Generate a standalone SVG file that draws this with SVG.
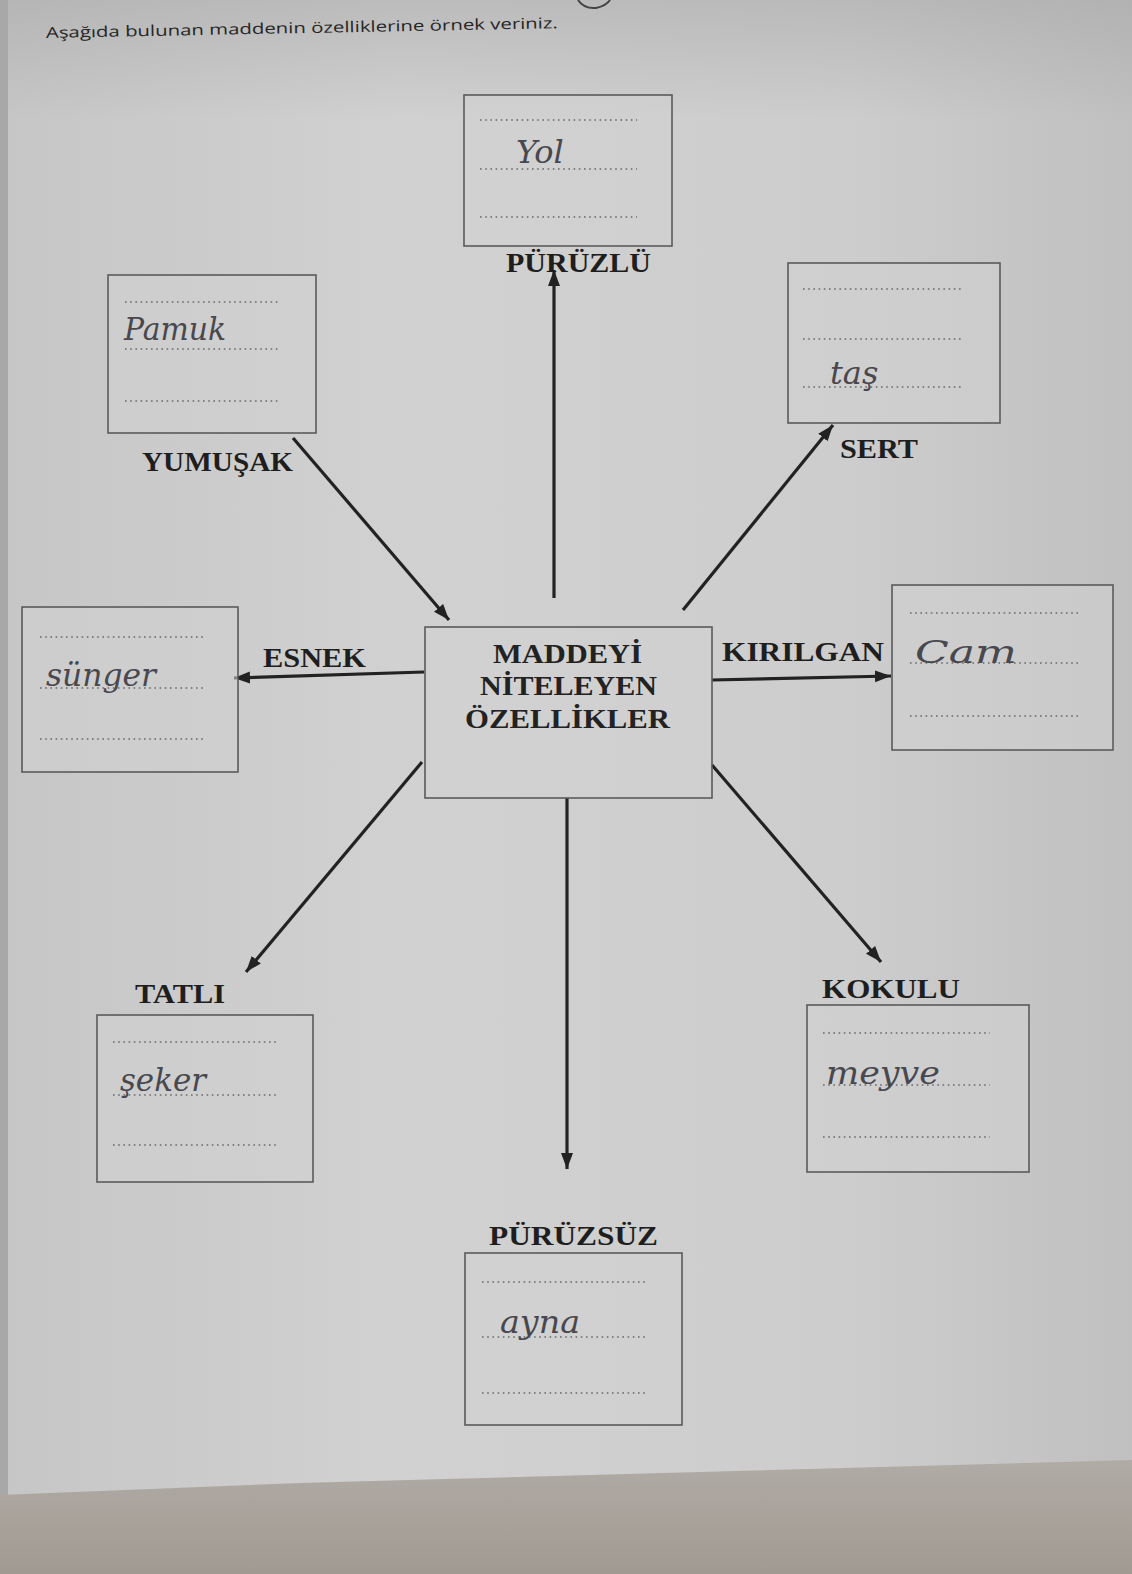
<svg xmlns="http://www.w3.org/2000/svg" width="1132" height="1574" viewBox="0 0 1132 1574">
  <defs>
    <linearGradient id="paper" x1="0" y1="0" x2="1" y2="0">
      <stop offset="0" stop-color="#c6c6c6"/>
      <stop offset="0.35" stop-color="#d1d1d1"/>
      <stop offset="0.75" stop-color="#cdcdcd"/>
      <stop offset="1" stop-color="#c0c0c0"/>
    </linearGradient>
    <linearGradient id="shadeTop" x1="0" y1="0" x2="0" y2="1">
      <stop offset="0" stop-color="#9c9c9c" stop-opacity="0.4"/>
      <stop offset="1" stop-color="#9c9c9c" stop-opacity="0"/>
    </linearGradient>
    <linearGradient id="table" x1="0" y1="0" x2="0" y2="1">
      <stop offset="0" stop-color="#b0aba5"/>
      <stop offset="1" stop-color="#a19a92"/>
    </linearGradient>
    <marker id="head" markerUnits="userSpaceOnUse" markerWidth="18" markerHeight="14" refX="16" refY="6" orient="auto">
      <path d="M0,0 L16,6 L0,12 z" fill="#222"/>
    </marker>
    <style>
      .box { fill: #d2d2d2; fill-opacity: 0.55; stroke: #5a5a5a; stroke-width: 1.6; }
      .dots { stroke: #6a6a6a; stroke-width: 1.6; stroke-dasharray: 1.6 3.6; }
      .label { font-family: "Liberation Serif", "Times New Roman", serif; font-weight: bold; font-size: 27px; fill: #1e1e1e; }
      .title { font-family: "Liberation Serif", "Times New Roman", serif; font-weight: bold; font-size: 28px; fill: #222; }
      .hand { font-family: "DejaVu Serif", "Liberation Serif", serif; font-style: italic; font-size: 32px; fill: #48484e; }
      .arrow { stroke: #222; stroke-width: 3.2; fill: none; marker-end: url(#head); }
      .lead { font-family: "Open Sans", "Liberation Sans", sans-serif; font-size: 15px; fill: #262626; }
    </style>
  </defs>

  <!-- paper and table -->
  <rect x="0" y="0" width="1132" height="1574" fill="url(#paper)"/>
  <rect x="0" y="0" width="1132" height="120" fill="url(#shadeTop)"/>
  <rect x="0" y="0" width="8" height="1500" fill="#a8a8a8"/>
  <path d="M0,1495 L300,1483 L1132,1460 L1132,1574 L0,1574 z" fill="url(#table)"/>

  <!-- tail of a heading stroke at the top edge -->
  <path d="M578,0 Q584,9 596,8 Q606,6 610,0" fill="none" stroke="#444" stroke-width="2"/>

  <text class="lead" x="46" y="38" textLength="512" lengthAdjust="spacingAndGlyphs" transform="rotate(-1.1 46 38)">Aşağıda bulunan maddenin özelliklerine örnek veriniz.</text>

  <!-- connectors -->
  <g id="connectors">
    <line class="arrow" x1="554" y1="598" x2="554" y2="270"/>
    <line class="arrow" x1="293" y1="438" x2="449" y2="620"/>
    <line class="arrow" x1="683" y1="610" x2="833" y2="425"/>
    <line class="arrow" x1="424" y1="672" x2="234" y2="678"/>
    <line class="arrow" x1="712" y1="680" x2="891" y2="676"/>
    <line class="arrow" x1="422" y1="762" x2="246" y2="972"/>
    <line class="arrow" x1="567" y1="798" x2="567" y2="1169"/>
    <line class="arrow" x1="712" y1="765" x2="881" y2="962"/>
  </g>

  <!-- central node -->
  <g id="center">
    <rect class="box" x="425" y="627" width="287" height="171"/>
    <text class="title" x="493" y="663" textLength="149" lengthAdjust="spacingAndGlyphs">MADDEYİ</text>
    <text class="title" x="480" y="695" textLength="177" lengthAdjust="spacingAndGlyphs">NİTELEYEN</text>
    <text class="title" x="465" y="728" textLength="205" lengthAdjust="spacingAndGlyphs">ÖZELLİKLER</text>
  </g>

  <g id="puruzlu">
    <rect class="box" x="464" y="95" width="208" height="151"/>
    <line class="dots" x1="480" y1="120" x2="637" y2="120"/>
    <line class="dots" x1="480" y1="169" x2="637" y2="169"/>
    <line class="dots" x1="480" y1="217" x2="637" y2="217"/>
    <text class="hand" x="516" y="163" font-size="38">Yol</text>
    <text class="label" x="506" y="272" textLength="145" lengthAdjust="spacingAndGlyphs">PÜRÜZLÜ</text>
  </g>

  <g id="yumusak">
    <rect class="box" x="108" y="275" width="208" height="158"/>
    <line class="dots" x1="125" y1="302" x2="278" y2="302"/>
    <line class="dots" x1="125" y1="349" x2="278" y2="349"/>
    <line class="dots" x1="125" y1="401" x2="278" y2="401"/>
    <text class="hand" x="124" y="340" textLength="102" lengthAdjust="spacingAndGlyphs">Pamuk</text>
    <text class="label" x="142" y="471" textLength="151" lengthAdjust="spacingAndGlyphs">YUMUŞAK</text>
  </g>

  <g id="sert">
    <rect class="box" x="788" y="263" width="212" height="160"/>
    <line class="dots" x1="803" y1="289" x2="962" y2="289"/>
    <line class="dots" x1="803" y1="339" x2="962" y2="339"/>
    <line class="dots" x1="803" y1="387" x2="962" y2="387"/>
    <text class="hand" x="830" y="384">taş</text>
    <text class="label" x="840" y="458" textLength="78" lengthAdjust="spacingAndGlyphs">SERT</text>
  </g>

  <g id="esnek">
    <rect class="box" x="22" y="607" width="216" height="165"/>
    <line class="dots" x1="40" y1="637" x2="205" y2="637"/>
    <line class="dots" x1="40" y1="688" x2="205" y2="688"/>
    <line class="dots" x1="40" y1="739" x2="205" y2="739"/>
    <text class="hand" x="46" y="686" textLength="110" lengthAdjust="spacingAndGlyphs">sünger</text>
    <text class="label" x="263" y="667" textLength="103" lengthAdjust="spacingAndGlyphs">ESNEK</text>
  </g>

  <g id="kirilgan">
    <rect class="box" x="892" y="585" width="221" height="165"/>
    <line class="dots" x1="910" y1="613" x2="1078" y2="613"/>
    <line class="dots" x1="910" y1="663" x2="1078" y2="663"/>
    <line class="dots" x1="910" y1="716" x2="1078" y2="716"/>
    <text class="hand" x="915" y="663" textLength="102" lengthAdjust="spacingAndGlyphs">Cam</text>
    <text class="label" x="722" y="661" textLength="162" lengthAdjust="spacingAndGlyphs">KIRILGAN</text>
  </g>

  <g id="tatli">
    <rect class="box" x="97" y="1015" width="216" height="167"/>
    <line class="dots" x1="113" y1="1042" x2="278" y2="1042"/>
    <line class="dots" x1="113" y1="1095" x2="278" y2="1095"/>
    <line class="dots" x1="113" y1="1145" x2="278" y2="1145"/>
    <text class="hand" x="120" y="1091" textLength="86" lengthAdjust="spacingAndGlyphs">şeker</text>
    <text class="label" x="135" y="1003" textLength="90" lengthAdjust="spacingAndGlyphs">TATLI</text>
  </g>

  <g id="kokulu">
    <rect class="box" x="807" y="1005" width="222" height="167"/>
    <line class="dots" x1="823" y1="1033" x2="990" y2="1033"/>
    <line class="dots" x1="823" y1="1085" x2="990" y2="1085"/>
    <line class="dots" x1="823" y1="1137" x2="990" y2="1137"/>
    <text class="hand" x="826" y="1084" textLength="114" lengthAdjust="spacingAndGlyphs">meyve</text>
    <text class="label" x="822" y="998" textLength="138" lengthAdjust="spacingAndGlyphs">KOKULU</text>
  </g>

  <g id="puruzsuz">
    <rect class="box" x="465" y="1253" width="217" height="172"/>
    <line class="dots" x1="482" y1="1282" x2="645" y2="1282"/>
    <line class="dots" x1="482" y1="1337" x2="645" y2="1337"/>
    <line class="dots" x1="482" y1="1393" x2="645" y2="1393"/>
    <text class="hand" x="500" y="1333" textLength="80" lengthAdjust="spacingAndGlyphs">ayna</text>
    <text class="label" x="489" y="1245" textLength="169" lengthAdjust="spacingAndGlyphs">PÜRÜZSÜZ</text>
  </g>
</svg>
